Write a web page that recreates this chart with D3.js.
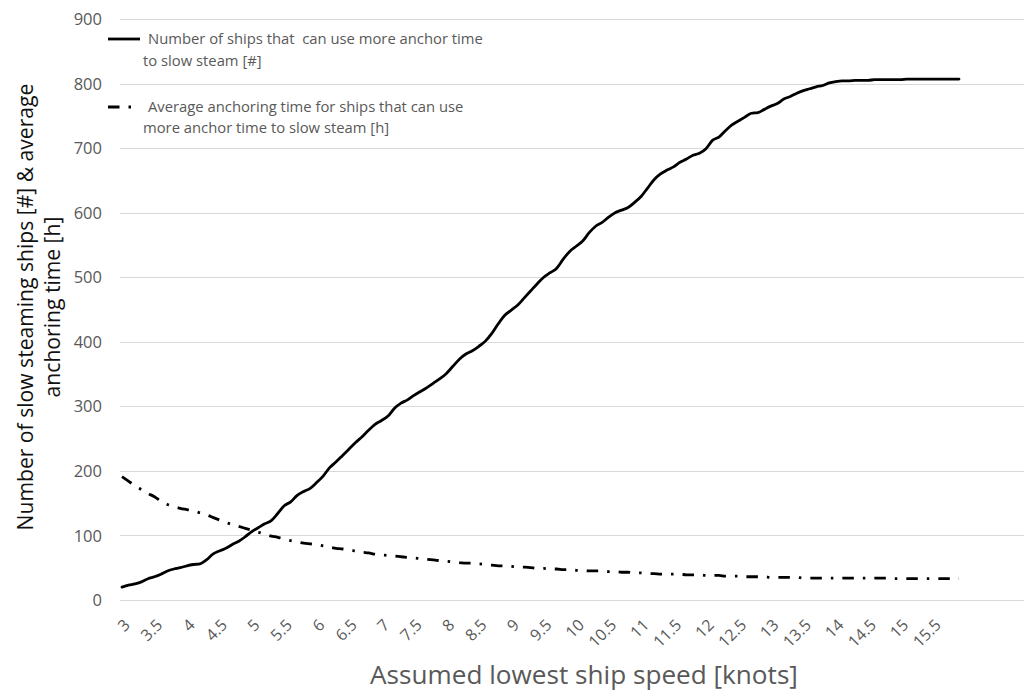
<!DOCTYPE html>
<html>
<head>
<meta charset="utf-8">
<script src="https://cdn.jsdelivr.net/npm/d3@7"></script>
<style>
  html, body { margin: 0; padding: 0; background: #fff; }
  svg { display: block; font-family: "Open Sans", sans-serif; }
</style>
</head>
<body>
<svg id="chart" width="1024" height="693"></svg>
<script>
// ---- Data ----
const speeds = d3.range(30, 160).map(d => d / 10); // 3.0 .. 15.9 knots (categories)

const shipsCount = [
  20, 23, 25, 28, 33, 36, 40, 45, 48, 50,
  53, 55, 56, 62, 71, 76, 80, 86, 91, 98,
  106, 112, 118, 123, 134, 146, 152, 162, 168, 173,
  182, 192, 205, 214, 224, 234, 244, 253, 263, 272,
  278, 285, 297, 305, 310, 317, 323, 329, 336, 343,
  351, 362, 373, 381, 386, 393, 401, 413, 428, 441,
  449, 457, 468, 479, 490, 500, 507, 514, 528, 540,
  548, 556, 569, 579, 585, 593, 600, 604, 608, 616,
  625, 638, 651, 660, 666, 671, 678, 683, 689, 692,
  699, 712, 717, 727, 736, 742, 748, 754, 755, 760,
  765, 769, 776, 780, 785, 789, 792, 795, 797, 801,
  803, 804, 804, 805, 805, 805, 806, 806, 806, 806,
  806, 807, 807, 807, 807, 807, 807, 807, 807, 807
];

const avgAnchorTime = [
  191, 184, 177, 171, 165, 160, 153, 148, 145, 142,
  140, 138, 135, 132, 128, 124, 120, 117, 114, 111,
  108, 105, 102, 99, 97, 94, 92, 90, 88, 87,
  86, 84, 82, 80, 79, 77, 76, 74, 73, 71,
  70, 69, 68, 67, 66, 65, 64, 63, 62, 61,
  60, 59, 58, 57, 57, 56, 55, 54, 53, 53,
  52, 51, 51, 50, 49, 49, 48, 48, 47, 47,
  46, 46, 45, 45, 45, 44, 44, 43, 43, 42,
  42, 41, 41, 40, 40, 40, 40, 39, 39, 39,
  38, 38, 38, 37, 37, 37, 36, 36, 36, 36,
  35, 35, 35, 35, 35, 34, 34, 34, 34, 34,
  34, 34, 34, 34, 34, 34, 34, 34, 34, 33,
  33, 33, 33, 33, 33, 33, 33, 33, 33, 33
];

const xTickLabels = d3.range(6, 32).map(d => d / 2); // 3 .. 15.5
const yTicks = [0, 100, 200, 300, 400, 500, 600, 700, 800, 900];

const seriesNames = [
  ["Number of ships that  can use more anchor time", "to slow steam [#]"],
  ["Average anchoring time for ships that can use", "more anchor time to slow steam [h]"]
];
const xTitle = "Assumed lowest ship speed [knots]";
const yTitle = ["Number of slow steaming ships [#] & average", "anchoring time [h]"];

// ---- Layout ----
const svg = d3.select("#chart");
const plotLeft = 120, plotRight = 1024, plotTop = 19, plotBottom = 600;
const x = d3.scaleLinear().domain([3, 15.9]).range([122, 959]);
const y = d3.scaleLinear().domain([0, 900]).range([plotBottom, plotTop]);

const grey = "#595959";

function fitWidth(sel, target) {
  const fs = parseFloat(sel.attr("font-size"));
  const w = sel.node().getComputedTextLength();
  sel.attr("font-size", (fs * target / w).toFixed(2));
}

// gridlines
svg.append("g").selectAll("line").data(yTicks).join("line")
  .attr("x1", plotLeft).attr("x2", plotRight)
  .attr("y1", d => Math.round(y(d)) + 0.5).attr("y2", d => Math.round(y(d)) + 0.5)
  .attr("stroke", "#d9d9d9").attr("stroke-width", 1);

// y axis labels
const yAxis = d3.axisLeft(y).tickValues(yTicks).tickSize(0).tickPadding(0);
const yg = svg.append("g").attr("transform", "translate(102,0)").call(yAxis);
yg.select(".domain").remove();
yg.selectAll("text").attr("fill", grey).attr("font-size", 16.5)
  .attr("font-family", "'Open Sans', sans-serif").attr("dy", "0.34em");

// x axis labels
const xAxis = d3.axisBottom(x).tickValues(xTickLabels).tickSize(0).tickFormat(d3.format("~g"));
const xg = svg.append("g").call(xAxis);
xg.select(".domain").remove();
xg.selectAll(".tick").attr("transform", d => `translate(${x(d) + 5},622)`);
xg.selectAll("text").attr("fill", grey).attr("font-size", 16)
  .attr("font-family", "'Open Sans', sans-serif")
  .attr("text-anchor", "end").attr("x", 0).attr("y", 0).attr("dy", "0.35em")
  .attr("transform", "rotate(-45)");

// lines
const pts1 = speeds.map((s, i) => [s, shipsCount[i]]);
const pts2 = speeds.map((s, i) => [s, avgAnchorTime[i]]);
const line = d3.line().x(d => x(d[0])).y(d => y(d[1])).curve(d3.curveMonotoneX);

svg.append("path").datum(pts2).attr("d", line)
  .attr("fill", "none").attr("stroke", "#000").attr("stroke-width", 2.8)
  .attr("stroke-dasharray", "11.5,9,2.5,9");
svg.append("path").datum(pts1).attr("d", line)
  .attr("fill", "none").attr("stroke", "#000").attr("stroke-width", 2.8)
  .attr("stroke-linejoin", "round").attr("stroke-linecap", "round");

// legend
const lg = svg.append("g");
lg.append("line").attr("x1", 108).attr("x2", 140).attr("y1", 39).attr("y2", 39)
  .attr("stroke", "#000").attr("stroke-width", 2.8);
lg.append("line").attr("x1", 108).attr("x2", 140).attr("y1", 107).attr("y2", 107)
  .attr("stroke", "#000").attr("stroke-width", 2.8).attr("stroke-dasharray", "11.5,9,2.5,9");
const legPos = [[[148, 44], [143, 65.5]], [[148, 112], [143, 133]]];
seriesNames.forEach((lines, i) => {
  lines.forEach((t, j) => {
    lg.append("text").attr("x", legPos[i][j][0]).attr("y", legPos[i][j][1])
      .attr("fill", grey).attr("font-size", 13.5).style("white-space", "pre").text(t);
  });
});
{
  const first = lg.select("text");
  const w = first.node().getComputedTextLength();
  const fs = 13.5 * 335 / w;
  lg.selectAll("text").attr("font-size", fs.toFixed(2));
}

// x title
const xt = svg.append("text").attr("x", 584).attr("y", 684).attr("text-anchor", "middle")
  .attr("fill", grey).attr("font-size", 24).text(xTitle);
fitWidth(xt, 428);

// y title
const yt = svg.append("g").attr("transform", "translate(0,307) rotate(-90)");
const yt1 = yt.append("text").attr("x", 0).attr("y", 33).attr("text-anchor", "middle")
  .attr("fill", "#111").attr("font-size", 20).text(yTitle[0]);
fitWidth(yt1, 447);
yt.append("text").attr("x", 0).attr("y", 60).attr("text-anchor", "middle")
  .attr("fill", "#111").attr("font-size", yt1.attr("font-size")).text(yTitle[1]);
</script>
</body>
</html>
